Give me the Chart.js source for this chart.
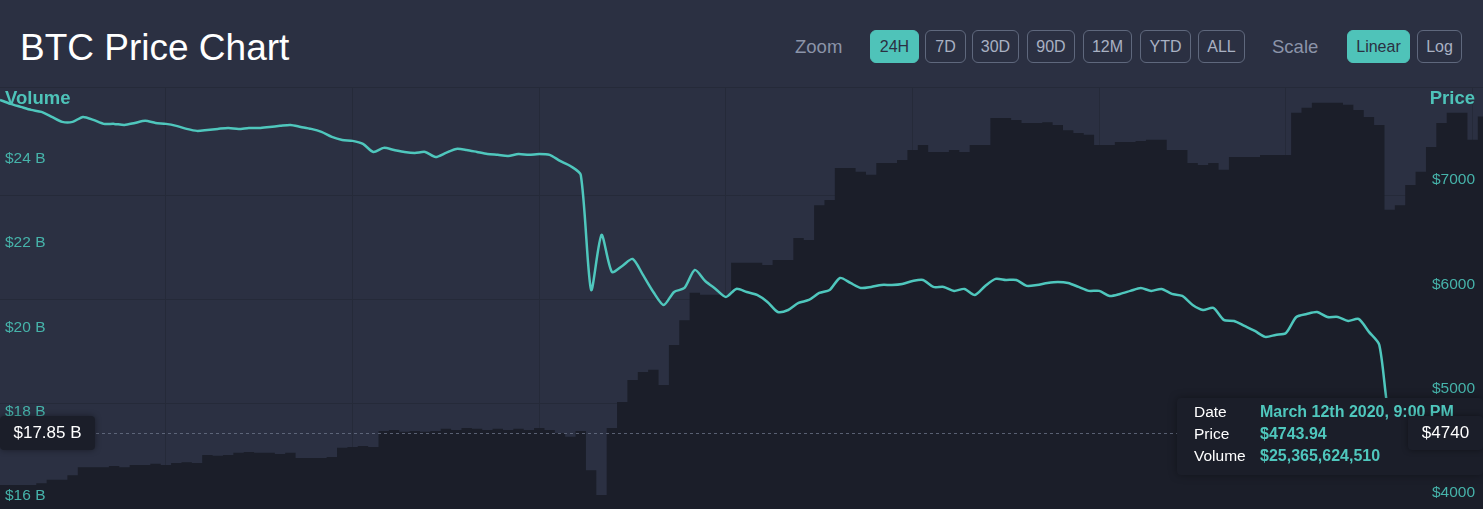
<!DOCTYPE html>
<html lang="en">
<head>
<meta charset="UTF-8">
<title>BTC Price Chart</title>
<script src="https://cdn.jsdelivr.net/npm/chart.js"></script>
<style>
  html, body { margin: 0; padding: 0; }
  body {
    width: 1483px; height: 509px; overflow: hidden; position: relative;
    background: #2b3042;
    font-family: "Liberation Sans", Arial, sans-serif;
  }
  .title { position: absolute; left: 20px; top: 29px; font-size: 37px; line-height: 37px; color: #fff; }
  .lbl { position: absolute; top: 30px; height: 33px; line-height: 33px; font-size: 18.5px; color: #8b94a9; }
  .btn {
    position: absolute; top: 30px; height: 33px; box-sizing: border-box;
    border: 1px solid #5f687d; border-radius: 6px; color: #a9b1c3; font-size: 16px;
    display: flex; align-items: center; justify-content: center;
  }
  .btn.on { background: #4fc3b9; border-color: #4fc3b9; color: #2b3042; }
  .sep { position: absolute; left: 0; top: 87px; width: 1483px; height: 1px; background: #252a39; }
  #wrap { position: absolute; left: 0; top: 88px; width: 1483px; height: 423px; }
  .axis-title { position: absolute; top: 88px; font-weight: bold; font-size: 18.5px; line-height: 20px; color: #4ec3b9; }
</style>
</head>
<body>
  <div class="title">BTC Price Chart</div>

  <div class="lbl" style="left:795px">Zoom</div>
  <div class="btn on" style="left:870px;width:49px">24H</div>
  <div class="btn" style="left:925px;width:41px">7D</div>
  <div class="btn" style="left:972px;width:47px">30D</div>
  <div class="btn" style="left:1027px;width:48px">90D</div>
  <div class="btn" style="left:1083px;width:49px">12M</div>
  <div class="btn" style="left:1140px;width:51px">YTD</div>
  <div class="btn" style="left:1198px;width:47px">ALL</div>
  <div class="lbl" style="left:1272px">Scale</div>
  <div class="btn on" style="left:1347px;width:63px">Linear</div>
  <div class="btn" style="left:1417px;width:45px">Log</div>

  <div class="sep"></div>
  <div id="wrap"><canvas id="btcChart" width="1483" height="423"></canvas></div>
  <div class="axis-title" style="left:5px">Volume</div>
  <div class="axis-title" style="right:8px">Price</div>

<script>
// 24h of 10-minute points, ending March 12th 2020, 9:00 PM
const timeLabels = [];
for (let i = 0; i < 144; i++) {
    const t = new Date(Date.UTC(2020, 2, 11, 21, 10) + i * 600000);
    timeLabels.push(t.toISOString().slice(11, 16));
}

// price in USD
const priceValues = [
    7912, 7874, 7845, 7816, 7797, 7749, 7701, 7701, 7749, 7720,
    7682, 7682, 7672, 7691, 7711, 7691, 7682, 7663, 7634, 7615,
    7624, 7634, 7643, 7634, 7643, 7643, 7653, 7663, 7672, 7653,
    7634, 7605, 7557, 7528, 7519, 7490, 7413, 7452, 7432, 7413,
    7404, 7413, 7365, 7404, 7442, 7432, 7413, 7394, 7385, 7375,
    7394, 7385, 7394, 7385, 7327, 7279, 7193, 6090, 6617, 6263,
    6320, 6387, 6234, 6071, 5946, 6071, 6109, 6282, 6176, 6100,
    6023, 6100, 6071, 6042, 5975, 5879, 5898, 5966, 5994, 6061,
    6090, 6205, 6157, 6109, 6119, 6138, 6138, 6148, 6176, 6186,
    6119, 6119, 6081, 6100, 6042, 6129, 6196, 6186, 6186, 6129,
    6138, 6157, 6167, 6157, 6119, 6081, 6081, 6033, 6052, 6081,
    6109, 6081, 6100, 6052, 6033, 5946, 5898, 5918, 5803, 5793,
    5745, 5697, 5640, 5659, 5678, 5831, 5860, 5879, 5831, 5831,
    5793, 5812, 5688, 5563, 4844, 4767, 4796, 4748, 4777, 4729,
    4758, 4744, 4748, 4743.94
];

// volume in billions of USD
const volumeValues = [
    16.62, 16.62, 16.62, 16.62, 16.66, 16.74, 16.74, 16.85, 17.04, 17.04,
    17.04, 17.07, 17.04, 17.09, 17.09, 17.12, 17.09, 17.14, 17.16, 17.14,
    17.33, 17.31, 17.33, 17.38, 17.40, 17.38, 17.38, 17.35, 17.38, 17.26,
    17.26, 17.26, 17.28, 17.50, 17.52, 17.54, 17.52, 17.90, 17.92, 17.88,
    17.90, 17.88, 17.90, 17.95, 17.92, 17.97, 17.95, 17.92, 17.95, 17.92,
    17.95, 17.92, 17.97, 17.92, 17.85, 17.76, 17.90, 16.97, 16.38, 17.97,
    18.59, 19.11, 19.30, 19.35, 18.99, 19.94, 20.53, 21.18, 21.13, 21.13,
    21.13, 21.89, 21.89, 21.89, 21.84, 21.96, 21.96, 22.48, 22.43, 23.26,
    23.38, 24.14, 24.14, 24.05, 23.98, 24.26, 24.26, 24.33, 24.57, 24.69,
    24.52, 24.52, 24.57, 24.52, 24.69, 24.69, 25.33, 25.33, 25.28, 25.21,
    25.21, 25.23, 25.16, 25.04, 24.97, 24.93, 24.69, 24.69, 24.76, 24.76,
    24.78, 24.81, 24.81, 24.57, 24.57, 24.26, 24.21, 24.26, 24.10, 24.40,
    24.40, 24.40, 24.45, 24.45, 24.45, 25.45, 25.57, 25.69, 25.69, 25.69,
    25.64, 25.52, 25.35, 25.16, 23.15, 23.26, 23.74, 24.05, 24.64, 25.21,
    25.45, 25.45, 24.81, 25.36562451
];

const priceTicks = [4000, 5000, 6000, 7000];
const volumeTicks = [16, 18, 20, 22, 24];

// hovered point
const hoverDate = 'March 12th 2020, 9:00 PM';
const crossVolume = 17.85;
const crossPrice = 4740;

const teal = '#4fc7bd';
const tickTeal = '#46b3aa';
const gridColor = '#252a39';
const darkBox = '#1b1e29';
const font = 'Liberation Sans, Arial, sans-serif';

function roundRect(ctx, x, y, w, h, r) {
    ctx.beginPath();
    ctx.moveTo(x + r, y);
    ctx.arcTo(x + w, y, x + w, y + h, r);
    ctx.arcTo(x + w, y + h, x, y + h, r);
    ctx.arcTo(x, y + h, x, y, r);
    ctx.arcTo(x, y, x + w, y, r);
    ctx.closePath();
}

// tick labels sit inside the plot, just above their value
const insideTicks = {
    id: 'insideTicks',
    afterDatasetsDraw(chart) {
        const { ctx, chartArea, scales } = chart;
        ctx.save();
        ctx.font = '15.5px ' + font;
        ctx.fillStyle = tickTeal;
        ctx.textBaseline = 'middle';
        ctx.textAlign = 'left';
        volumeTicks.forEach(v => {
            ctx.fillText('$' + v + ' B', chartArea.left + 5, scales.volume.getPixelForValue(v) - 15);
        });
        ctx.textAlign = 'right';
        priceTicks.forEach(v => {
            ctx.fillText('$' + v, chartArea.right - 8, scales.price.getPixelForValue(v) - 15);
        });
        ctx.restore();
    }
};

// dashed crosshair, tooltip and axis tags
const overlay = {
    id: 'overlay',
    afterDraw(chart) {
        const { ctx, chartArea, scales } = chart;
        const y = Math.round(scales.volume.getPixelForValue(crossVolume));
        ctx.save();

        ctx.strokeStyle = 'rgba(115,124,146,0.7)';
        ctx.lineWidth = 1;
        ctx.setLineDash([3, 3]);
        ctx.beginPath();
        ctx.moveTo(chartArea.left, y + 0.5);
        ctx.lineTo(chartArea.right, y + 0.5);
        ctx.stroke();
        ctx.setLineDash([]);

        // tooltip
        const last = priceValues.length - 1;
        const tw = 306, th = 77;
        const tx = chartArea.right - tw, ty = y - 35;
        ctx.shadowColor = 'rgba(0,0,0,0.35)';
        ctx.shadowBlur = 8;
        ctx.fillStyle = darkBox;
        roundRect(ctx, tx, ty, tw, th, 4);
        ctx.fill();
        ctx.shadowBlur = 0;
        const rows = [
            ['Date', hoverDate],
            ['Price', '$' + priceValues[last].toFixed(2)],
            ['Volume', '$' + Math.round(volumeValues[last] * 1e9).toLocaleString('en-US')]
        ];
        ctx.textBaseline = 'middle';
        ctx.textAlign = 'left';
        rows.forEach((r, i) => {
            const ry = ty + 15 + i * 22;
            ctx.font = '15.5px ' + font;
            ctx.fillStyle = '#ffffff';
            ctx.fillText(r[0], tx + 17, ry);
            ctx.font = 'bold 16px ' + font;
            ctx.fillStyle = teal;
            ctx.fillText(r[1], tx + 83, ry);
        });

        // axis tags
        const tags = [
            { text: '$' + crossVolume.toFixed(2) + ' B', x: chartArea.left, w: 95 },
            { text: '$' + crossPrice, x: chartArea.right - 75, w: 75 }
        ];
        tags.forEach(t => {
            ctx.shadowColor = 'rgba(0,0,0,0.4)';
            ctx.shadowBlur = 6;
            ctx.fillStyle = darkBox;
            roundRect(ctx, t.x, y - 17, t.w, 34, 4);
            ctx.fill();
            ctx.shadowBlur = 0;
            ctx.fillStyle = '#ffffff';
            ctx.font = '17px ' + font;
            ctx.textAlign = 'center';
            ctx.fillText(t.text, t.x + t.w / 2, y);
        });
        ctx.restore();
    }
};

const ctx = document.getElementById('btcChart').getContext('2d');
const chart = new Chart(ctx, {
    type: 'line',
    data: {
        labels: timeLabels,
        datasets: [{
            label: 'Price',
            data: priceValues,
            yAxisID: 'price',
            borderColor: teal,
            borderWidth: 2.5,
            tension: 0.25,
            pointRadius: 0,
            pointHoverRadius: 0,
            fill: false,
            order: 1
        }, {
            label: 'Volume',
            data: volumeValues,
            yAxisID: 'volume',
            stepped: 'middle',
            borderWidth: 0,
            borderColor: darkBox,
            backgroundColor: darkBox,
            pointRadius: 0,
            pointHoverRadius: 0,
            fill: 'start',
            order: 2
        }]
    },
    options: {
        responsive: false,
        animation: false,
        events: [],
        layout: { padding: 0, autoPadding: false },
        plugins: { legend: { display: false }, tooltip: { enabled: false } },
        scales: {
            x: {
                type: 'category',
                ticks: { display: false },
                grid: { color: gridColor, drawTicks: false },
                border: { display: false },
                afterBuildTicks: s => { s.ticks = s.ticks.filter(t => t.value % 18 === 16); }
            },
            volume: {
                type: 'linear',
                position: 'left',
                min: 16,
                max: 26.04,
                ticks: { display: false },
                grid: { display: false, drawTicks: false },
                border: { display: false }
            },
            price: {
                type: 'linear',
                position: 'right',
                min: 3971,
                max: 8026,
                afterBuildTicks: s => { s.ticks = priceTicks.map(v => ({ value: v })); },
                ticks: { display: false },
                grid: { color: gridColor, drawTicks: false },
                border: { display: false }
            }
        }
    },
    plugins: [insideTicks, overlay]
});
</script>
</body>
</html>
